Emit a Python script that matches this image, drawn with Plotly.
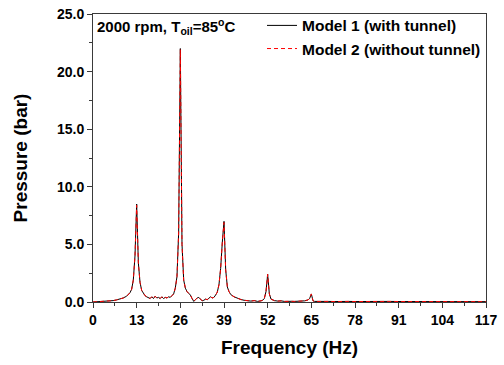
import plotly.graph_objects as go

freq = [0, 1, 2, 3, 4, 5, 6, 7, 8, 9, 10, 11, 11.5, 12, 12.5, 13, 13.5, 14, 14.5, 15,
        15.5, 16, 16.5, 17, 17.5, 18, 18.5, 19, 19.5, 20, 20.5, 21, 21.5, 22, 22.5, 23,
        23.5, 24, 24.5, 25, 25.5, 26, 26.5, 27, 27.5, 28, 28.5, 29, 29.5, 30, 30.5, 31,
        31.5, 32, 32.5, 33, 33.5, 34, 34.5, 35, 35.5, 36, 36.5, 37, 37.5, 38, 38.5, 39,
        39.5, 40, 40.5, 41, 42, 43, 44, 45, 46, 47, 48, 49, 50, 50.5, 51, 51.5, 52, 52.5,
        53, 54, 55, 56, 57, 58, 59, 60, 61, 62, 63, 64, 64.5, 65, 65.5, 66, 67, 68, 70,
        72, 74, 75, 76, 78, 80, 84, 88, 92, 96, 100, 104, 108, 112, 117]

model1 = [0.00, 0.01, 0.02, 0.03, 0.05, 0.08, 0.12, 0.18, 0.25, 0.35, 0.50, 0.80, 1.1, 1.9, 4.0, 8.5, 3.4, 1.7, 1.0, 0.75,
          0.55, 0.45, 0.35, 0.30, 0.45, 0.30, 0.50, 0.35, 0.40, 0.30, 0.45, 0.30, 0.40, 0.35, 0.45, 0.40,
          0.55, 0.70, 1.2, 2.2, 6.0, 22.0, 5.0, 1.9, 1.2, 0.9, 0.75, 0.60, 0.30, 0.05, 0.20, 0.35,
          0.40, 0.25, 0.10, 0.15, 0.25, 0.20, 0.30, 0.45, 0.35, 0.40, 0.60, 0.85, 1.5, 2.9, 5.2, 7.0,
          2.8, 1.3, 0.9, 0.65, 0.45, 0.30, 0.22, 0.15, 0.12, 0.08, 0.12, 0.05, 0.10, 0.15, 0.30, 0.9, 2.4, 0.7,
          0.25, 0.12, 0.08, 0.10, 0.05, 0.08, 0.06, 0.05, 0.08, 0.05, 0.10, 0.18, 0.30, 0.70, 0.10, 0.05, 0.06, 0.04, 0.05,
          0.04, 0.06, 0.08, 0.05, 0.04, 0.05, 0.04, 0.05, 0.04, 0.04, 0.04, 0.03, 0.04, 0.03, 0.03]

model2 = [0.00, 0.01, 0.02, 0.03, 0.05, 0.08, 0.12, 0.18, 0.25, 0.35, 0.50, 0.80, 1.1, 1.9, 4.0, 8.4, 3.4, 1.7, 1.0, 0.75,
          0.55, 0.45, 0.35, 0.30, 0.45, 0.30, 0.50, 0.35, 0.40, 0.30, 0.45, 0.30, 0.40, 0.35, 0.45, 0.40,
          0.55, 0.70, 1.2, 2.2, 6.0, 21.9, 5.0, 1.9, 1.2, 0.9, 0.75, 0.60, 0.30, 0.05, 0.20, 0.35,
          0.40, 0.25, 0.10, 0.15, 0.25, 0.20, 0.30, 0.45, 0.35, 0.40, 0.60, 0.85, 1.5, 2.9, 5.2, 6.9,
          2.8, 1.3, 0.9, 0.65, 0.45, 0.30, 0.22, 0.15, 0.12, 0.08, 0.12, 0.05, 0.10, 0.15, 0.30, 0.9, 2.4, 0.7,
          0.25, 0.12, 0.08, 0.10, 0.05, 0.08, 0.06, 0.05, 0.08, 0.05, 0.10, 0.18, 0.30, 0.70, 0.10, 0.05, 0.06, 0.04, 0.05,
          0.04, 0.06, 0.08, 0.05, 0.04, 0.05, 0.04, 0.05, 0.04, 0.04, 0.04, 0.03, 0.04, 0.03, 0.03]

x_ticks = [0, 13, 26, 39, 52, 65, 78, 91, 104, 117]
y_ticks = [0, 5, 10, 15, 20, 25]

FONT = "Liberation Sans, Arial, sans-serif"
AX = "#3a3a3a"

fig = go.Figure()
fig.add_trace(go.Scatter(x=freq, y=model1, mode="lines", name="<b>Model 1 (with tunnel)</b>",
                         line=dict(color="black", width=1)))
fig.add_trace(go.Scatter(x=freq, y=model2, mode="lines", name="<b>Model 2 (without tunnel)</b>",
                         line=dict(color="#ff0000", width=1, dash="4px,3px")))

fig.update_layout(
    width=504, height=365,
    margin=dict(l=93, r=18, t=14, b=63, autoexpand=False),
    paper_bgcolor="white", plot_bgcolor="white",
    font=dict(family=FONT, color="black"),
    showlegend=True,
    legend=dict(x=1, y=1.018, xanchor="right", yanchor="top", bgcolor="rgba(0,0,0,0)",
                font=dict(size=15.5, family=FONT), tracegroupgap=0, itemwidth=30),
    xaxis=dict(range=[0, 117], tickvals=x_ticks, ticktext=[f"<b>{v}</b>" for v in x_ticks],
               ticks="outside", ticklen=5, tickcolor=AX, showline=True, linecolor=AX, linewidth=1,
               mirror=True, showgrid=False, zeroline=False, automargin=False,
               tickfont=dict(size=14, family=FONT),
               minor=dict(dtick=6.5, tick0=0, ticks="outside", ticklen=3, tickcolor=AX, showgrid=False),
               title=dict(text="<b>Frequency (Hz)</b>", font=dict(size=19, family=FONT), standoff=13)),
    yaxis=dict(range=[0, 25], tickvals=y_ticks, ticktext=[f"<b>{v:.1f}</b>" for v in y_ticks],
               ticks="outside", ticklen=5, tickcolor=AX, showline=True, linecolor=AX, linewidth=1,
               mirror=True, showgrid=False, zeroline=False, automargin=False,
               tickfont=dict(size=14, family=FONT),
               minor=dict(dtick=2.5, tick0=0, ticks="outside", ticklen=3, tickcolor=AX, showgrid=False),
               title=dict(text="<b>Pressure (bar)</b>", font=dict(size=19, family=FONT), standoff=24)),
    annotations=[dict(x=0.005, y=1.0, xref="paper", yref="paper", xanchor="left", yanchor="top",
                      text="<b>2000 rpm, T<sub>oil</sub>=85<sup>o</sup>C</b>", showarrow=False,
                      font=dict(size=15, family=FONT))],
)

fig.write_html("out.html", config={"displayModeBar": False},
               post_script="document.body.style.margin='0';")
